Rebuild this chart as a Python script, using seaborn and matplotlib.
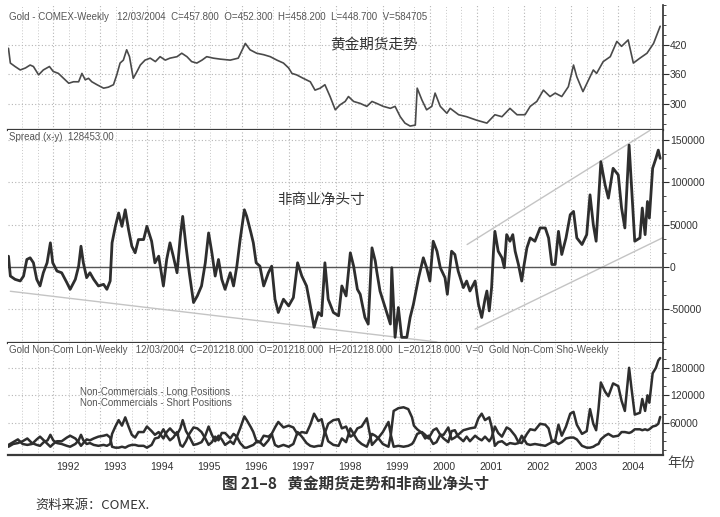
import numpy as np
import pandas as pd
import seaborn as sns
import matplotlib.pyplot as plt
from matplotlib.ticker import FixedLocator, MultipleLocator
from matplotlib.transforms import ScaledTranslation

# ---- gold weekly close ----
gold_t = [1991.05, 1991.09, 1991.19, 1991.30, 1991.41, 1991.51, 1991.58, 1991.69, 1991.79, 1991.92,
          1992.00, 1992.11, 1992.22, 1992.33, 1992.43, 1992.54, 1992.61, 1992.68, 1992.75, 1992.82,
          1992.93, 1993.07, 1993.17, 1993.28, 1993.35, 1993.42, 1993.49, 1993.56, 1993.62, 1993.70,
          1993.78, 1993.85, 1993.95, 1994.06, 1994.17, 1994.27, 1994.38, 1994.48, 1994.63, 1994.73,
          1994.84, 1994.94, 1995.05, 1995.16, 1995.26, 1995.40, 1995.55, 1995.76, 1995.93, 1996.08,
          1996.18, 1996.32, 1996.47, 1996.61, 1996.75, 1996.89, 1997.00, 1997.07, 1997.17, 1997.31,
          1997.46, 1997.56, 1997.67, 1997.77, 1997.88, 1997.99, 1998.09, 1998.20, 1998.27, 1998.38,
          1998.52, 1998.66, 1998.77, 1998.87, 1999.01, 1999.16, 1999.26, 1999.37, 1999.47, 1999.58,
          1999.69, 1999.73, 1999.83, 1999.93, 2000.04, 2000.11, 2000.22, 2000.36, 2000.43, 2000.61,
          2000.78, 2000.99, 2001.21, 2001.38, 2001.53, 2001.70, 2001.85, 2002.02, 2002.13, 2002.27,
          2002.41, 2002.55, 2002.66, 2002.80, 2002.94, 2003.05, 2003.12, 2003.25, 2003.37, 2003.47,
          2003.54, 2003.68, 2003.83, 2003.97, 2004.07, 2004.21, 2004.32, 2004.46, 2004.61, 2004.75,
          2004.89]
gold_v = [413, 383, 376, 369, 373, 379, 376, 359, 369, 376,
          366, 362, 352, 342, 345, 345, 362, 349, 352, 345,
          339, 332, 334, 339, 359, 383, 389, 410, 396, 352,
          366, 379, 389, 393, 386, 396, 389, 393, 396, 403,
          396, 386, 383, 389, 396, 393, 391, 389, 393, 423,
          410, 403, 400, 396, 389, 383, 373, 362, 359, 352,
          345, 328, 332, 339, 315, 288, 298, 305, 315, 305,
          301, 295, 305, 301, 295, 291, 295, 274, 261, 255,
          257, 332, 308, 288, 295, 322, 295, 281, 291, 278,
          274, 267, 261, 278, 274, 291, 278, 278, 295, 305,
          328, 315, 322, 315, 335, 379, 355, 325, 349, 369,
          362, 386, 396, 427, 417, 430, 383, 393, 403, 423,
          457.8]

# ---- spread (x-y): non-commercial net position ----
spread_t = [1991.05, 1991.09, 1991.19, 1991.30, 1991.37, 1991.44, 1991.51, 1991.58, 1991.65, 1991.72,
            1991.79, 1991.87, 1991.94, 1991.99, 1992.08, 1992.18, 1992.29, 1992.36, 1992.47, 1992.54,
            1992.59, 1992.64, 1992.71, 1992.78, 1992.86, 1992.96, 1993.07, 1993.14, 1993.21, 1993.25,
            1993.32, 1993.39, 1993.46, 1993.53, 1993.60, 1993.67, 1993.74, 1993.81, 1993.92, 1993.99,
            1994.09, 1994.16, 1994.24, 1994.34, 1994.41, 1994.48, 1994.55, 1994.63, 1994.70, 1994.75,
            1994.82, 1994.89, 1994.98, 1995.06, 1995.15, 1995.23, 1995.30, 1995.37, 1995.44, 1995.51,
            1995.58, 1995.65, 1995.76, 1995.83, 1995.90, 1995.97, 1996.06, 1996.11, 1996.20, 1996.25,
            1996.31, 1996.39, 1996.47, 1996.57, 1996.64, 1996.71, 1996.78, 1996.89, 1997.00, 1997.10,
            1997.19, 1997.28, 1997.38, 1997.46, 1997.54, 1997.63, 1997.70, 1997.77, 1997.84, 1997.95,
            1998.06, 1998.13, 1998.22, 1998.31, 1998.38, 1998.46, 1998.52, 1998.62, 1998.69, 1998.77,
            1998.84, 1998.87, 1998.94, 1999.05, 1999.16, 1999.19, 1999.26, 1999.33, 1999.40, 1999.51,
            1999.58, 1999.65, 1999.76, 1999.86, 1999.93, 2000.00, 2000.07, 2000.15, 2000.22, 2000.32,
            2000.37, 2000.46, 2000.53, 2000.60, 2000.71, 2000.78, 2000.85, 2000.96, 2001.03, 2001.10,
            2001.17, 2001.21, 2001.26, 2001.31, 2001.35, 2001.38, 2001.45, 2001.53, 2001.58, 2001.63,
            2001.70, 2001.76, 2001.81, 2001.88, 2001.95, 2001.99, 2002.06, 2002.13, 2002.23, 2002.34,
            2002.45, 2002.52, 2002.59, 2002.66, 2002.73, 2002.80, 2002.89, 2002.98, 2003.05, 2003.12,
            2003.23, 2003.33, 2003.40, 2003.47, 2003.53, 2003.58, 2003.63, 2003.72, 2003.79, 2003.89,
            2004.00, 2004.07, 2004.14, 2004.23, 2004.28, 2004.35, 2004.46, 2004.51, 2004.57, 2004.62,
            2004.66, 2004.73, 2004.80, 2004.85, 2004.89]
spread_v = [12700, -10800, -14700, -16600, -10800, 8800, 10800, 4900, -14700, -22500,
            -6900, 4900, 28500, 4900, -4900, -6900, -18600, -26500, -14700, 900,
            24500, 4900, -12700, -6900, -14700, -22500, -20600, -26500, -16600, 28500,
            48000, 63800, 48000, 67600, 44100, 24500, 16700, 32400, 32400, 48000,
            30400, 4900, 12700, -22500, 8800, 28500, 12700, -6900, 36300, 59800,
            24500, -6900, -42100, -34300, -22500, 4900, 40200, 16700, -10800, 8800,
            -14700, -26500, -6900, -22500, 900, 32400, 67600, 59800, 40200, 28500,
            4900, 900, -22500, -6900, 900, -38200, -53900, -38200, -46100, -36300,
            4900, -10800, -22500, -46100, -71500, -53900, -57800, 4900, -38200, -53900,
            -57800, -22500, -34300, 16700, 900, -26500, -32400, -59800, -67600, 22600,
            6900, -4900, -28500, -48000, -67600, -900, -83300, -48000, -83300, -83300,
            -59800, -44100, -12700, 10800, -900, -16700, 30400, 18600, -900, -12700,
            -32400, 18600, 14700, -4900, -24500, -16700, -28500, -16700, -44100, -59800,
            -38200, -28500, -52000, -24500, 18600, 42100, 18600, 10800, -900, 38200,
            30400, 38200, 18600, 2900, -16700, -900, 22600, 34300, 30400, 46100,
            46100, 34300, 2900, 2900, 42100, 14700, 34300, 61800, 65700, 34300,
            26500, 38200, 85300, 50000, 30400, 77400, 124500, 97100, 81400, 116700,
            108800, 69700, 46100, 144100, 97100, 30400, 34300, 69700, 38200, 77400,
            57800, 116700, 128500, 138200, 128453]

# trend channel drawn on the spread panel: (start year, start value, end year, end value)
trend_lines = [(1991.09, -28800, 2000.15, -88800),
               (2000.79, 26500, 2004.68, 161800),
               (2000.96, -73500, 2004.95, 34700)]

# ---- non-commercial long / short positions (thousand contracts) ----
pos_t = [1991.05, 1991.15, 1991.25, 1991.35, 1991.45, 1991.55, 1991.65, 1991.72, 1991.80, 1991.88,
         1991.94, 1992.00, 1992.08, 1992.18, 1992.29, 1992.36, 1992.47, 1992.54, 1992.59, 1992.64,
         1992.71, 1992.78, 1992.86, 1992.96, 1993.07, 1993.14, 1993.21, 1993.25, 1993.32, 1993.39,
         1993.46, 1993.53, 1993.60, 1993.67, 1993.74, 1993.81, 1993.92, 1993.99, 1994.09, 1994.16,
         1994.24, 1994.34, 1994.41, 1994.48, 1994.55, 1994.63, 1994.70, 1994.75, 1994.82, 1994.89,
         1994.98, 1995.06, 1995.15, 1995.23, 1995.30, 1995.37, 1995.44, 1995.51, 1995.58, 1995.65,
         1995.76, 1995.83, 1995.90, 1995.97, 1996.06, 1996.11, 1996.20, 1996.25, 1996.31, 1996.39,
         1996.47, 1996.57, 1996.64, 1996.71, 1996.78, 1996.89, 1997.00, 1997.10, 1997.19, 1997.28,
         1997.38, 1997.46, 1997.54, 1997.63, 1997.70, 1997.77, 1997.84, 1997.95, 1998.06, 1998.13,
         1998.22, 1998.31, 1998.38, 1998.46, 1998.55, 1998.66, 1998.77, 1998.84, 1998.91, 1999.00,
         1999.12, 1999.17, 1999.23, 1999.33, 1999.44, 1999.54, 1999.62, 1999.66, 1999.73, 1999.83,
         1999.90, 1999.97, 2000.07, 2000.14, 2000.22, 2000.29, 2000.39, 2000.46, 2000.53, 2000.60,
         2000.71, 2000.78, 2000.85, 2000.96, 2001.03, 2001.10, 2001.17, 2001.26, 2001.31, 2001.38,
         2001.45, 2001.53, 2001.63, 2001.70, 2001.81, 2001.88, 2001.95, 2002.06, 2002.13, 2002.23,
         2002.34, 2002.45, 2002.52, 2002.59, 2002.66, 2002.73, 2002.80, 2002.89, 2002.98, 2003.05,
         2003.12, 2003.23, 2003.33, 2003.40, 2003.47, 2003.53, 2003.58, 2003.63, 2003.72, 2003.79,
         2003.89, 2004.00, 2004.07, 2004.14, 2004.23, 2004.28, 2004.35, 2004.46, 2004.51, 2004.57,
         2004.62, 2004.66, 2004.73, 2004.80, 2004.85, 2004.89]
long_k = [8, 14, 16, 20, 26, 16, 12, 10, 18, 22,
          34, 22, 16, 14, 10, 8, 14, 22, 34, 22,
          14, 16, 12, 10, 12, 10, 14, 36, 52, 66,
          54, 72, 52, 34, 28, 40, 40, 52, 42, 34,
          40, 26, 40, 48, 40, 34, 48, 66, 42, 30,
          12, 14, 18, 32, 52, 34, 20, 32, 24, 12,
          20, 14, 30, 48, 74, 66, 50, 40, 22, 18,
          10, 22, 36, 12, 8, 12, 8, 14, 40, 30,
          16, 10, 8, 10, 10, 42, 20, 12, 10, 26,
          18, 48, 36, 22, 14, 8, 36, 32, 26, 14,
          8, 34, 8, 10, 8, 10, 14, 20, 36, 40,
          34, 26, 44, 48, 34, 26, 18, 42, 44, 30,
          20, 30, 20, 32, 26, 22, 30, 20, 28, 52,
          38, 30, 50, 46, 32, 18, 16, 36, 46, 44,
          58, 56, 48, 20, 22, 56, 32, 52, 80, 84,
          56, 36, 42, 90, 58, 44, 90, 148, 128, 118,
          146, 140, 108, 86, 180, 136, 78, 82, 112, 86,
          120, 104, 168, 180, 196, 201.2]
short_k = [12, 18, 24, 14, 12, 14, 24, 30, 22, 14,
           8, 14, 20, 20, 28, 32, 26, 18, 10, 16,
           24, 22, 26, 30, 32, 34, 28, 8, 6, 6,
           8, 6, 10, 12, 12, 10, 10, 6, 12, 26,
           28, 46, 32, 22, 28, 40, 12, 8, 20, 36,
           50, 48, 40, 26, 12, 18, 30, 22, 38, 38,
           26, 36, 30, 16, 6, 6, 10, 12, 18, 18,
           32, 30, 36, 50, 62, 50, 54, 50, 35, 40,
           38, 56, 80, 64, 68, 38, 58, 66, 68, 48,
           52, 30, 34, 48, 52, 70, 12, 20, 28, 40,
           62, 34, 86, 92, 94, 90, 72, 54, 46, 38,
           26, 32, 14, 18, 34, 34, 50, 24, 28, 34,
           44, 46, 48, 50, 70, 80, 66, 72, 52, 10,
           18, 20, 12, 16, 14, 16, 32, 14, 12, 14,
           12, 10, 14, 18, 20, 14, 18, 26, 28, 28,
           24, 10, 6, 6, 8, 12, 14, 24, 32, 36,
           30, 32, 40, 40, 38, 40, 46, 46, 44, 46,
           44, 46, 52, 54, 58, 72.8]

years = list(range(1992, 2005))

gold_df = pd.DataFrame({"t": gold_t, "close": gold_v})
spread_df = pd.DataFrame({"t": spread_t, "spread": spread_v})
pos_df = pd.DataFrame({"t": pos_t,
                       "long": np.array(long_k) * 1000,
                       "short": np.array(short_k) * 1000})

sns.set_theme(style="white")
plt.rcParams['font.family'] = ['Liberation Sans', 'DejaVu Sans']

ink = '#2e2e2e'
grey_txt = '#555555'
cjk = ['Noto Sans CJK SC', 'DejaVu Sans']

fig = plt.figure(figsize=(7.2, 5.17), dpi=100)
fig.patch.set_facecolor('white')

left, width = 8 / 720, 655 / 720
ax1 = fig.add_axes([left, 1 - 130 / 517, width, 125 / 517])
ax2 = fig.add_axes([left, 1 - 343 / 517, width, 213 / 517])
ax3 = fig.add_axes([left, 1 - 455 / 517, width, 112 / 517])

sns.lineplot(data=gold_df, x="t", y="close", ax=ax1, color='#4a4a4a',
             linewidth=1.2, estimator=None, sort=False)
sns.lineplot(data=spread_df, x="t", y="spread", ax=ax2, color=ink,
             linewidth=2.0, estimator=None, sort=False, zorder=4)
sns.lineplot(data=pos_df, x="t", y="short", ax=ax3, color=ink,
             linewidth=1.8, estimator=None, sort=False)
sns.lineplot(data=pos_df, x="t", y="long", ax=ax3, color=ink,
             linewidth=1.8, estimator=None, sort=False)

ax2.axhline(0, color='#555555', lw=1.0, zorder=3)
for x0, y0, x1, y1 in trend_lines:
    ax2.plot([x0, x1], [y0, y1], color='#c4c4c4', lw=1.0, zorder=2)

limits = [(ax1, (247, 501), [300, 360, 420], 20),
          (ax2, (-90000, 162000), [-50000, 0, 50000, 100000, 150000], 50000 / 3),
          (ax3, (-10000, 234000), [60000, 120000, 180000], 20000)]

for ax, ylim, yt, minor in limits:
    ax.set_xlim(1991.04, 2004.95)
    ax.set_ylim(*ylim)
    ax.set_facecolor('white')
    ax.set_xlabel('')
    ax.set_ylabel('')
    ax.yaxis.tick_right()
    ax.yaxis.set_major_locator(FixedLocator(yt))
    ax.yaxis.set_minor_locator(MultipleLocator(minor))
    ax.set_yticklabels([str(v) for v in yt])
    ax.tick_params(axis='y', which='major', length=4, width=0.8, color=ink,
                   labelsize=7.5, labelcolor='#333333', pad=1)
    ax.tick_params(axis='y', which='minor', length=2, width=0.6, color=ink)
    ax.set_xticks(years)
    ax.xaxis.set_minor_locator(MultipleLocator(1 / 3))
    ax.grid(True, which='major', axis='both', linestyle=(0, (1, 2)), color='#b5b5b5', lw=0.8)
    ax.grid(True, which='minor', axis='x', linestyle=(0, (1, 2)), color='#c8c8c8', lw=0.7)
    ax.tick_params(axis='x', which='minor', length=0)
    for side in ['left', 'top']:
        ax.spines[side].set_visible(False)
    ax.spines['right'].set_color(ink)
    ax.spines['right'].set_linewidth(1.2)
    ax.spines['bottom'].set_color('#3a3a3a')
    ax.spines['bottom'].set_linewidth(1.6)

for ax in (ax1, ax2):
    ax.tick_params(axis='x', which='major', length=0, labelbottom=False)

ax3.tick_params(axis='x', which='major', length=5, width=0.8, color=ink,
                labelsize=7.5, labelcolor='#333333', pad=0)
ax3.set_xticklabels([str(y) for y in years])
shift = ScaledTranslation(2 / 72, 0, fig.dpi_scale_trans)
for lab in ax3.get_xticklabels():
    lab.set_horizontalalignment('left')
    lab.set_transform(lab.get_transform() + shift)


def px(x, y):
    return x / 720, 1 - y / 517


hdr = dict(fontsize=7, color=grey_txt, va='center', ha='left')
fig.text(*px(9, 17), "Gold - COMEX-Weekly   12/03/2004  C=457.800  O=452.300  "
         "H=458.200  L=448.700  V=584705", **hdr)
fig.text(*px(9, 137), "Spread (x-y)  128453.00", **hdr)
fig.text(*px(9, 350), "Gold Non-Com Lon-Weekly   12/03/2004  C=201218.000  O=201218.000  "
         "H=201218.000  L=201218.000  V=0  Gold Non-Com Sho-Weekly", **hdr)
fig.text(*px(80, 392), "Non-Commercials - Long Positions", **hdr)
fig.text(*px(80, 403), "Non-Commercials - Short Positions", **hdr)

fig.text(*px(330, 45), "黄金期货走势", fontsize=10.5, color='#333333',
         family=cjk, va='center', ha='left')
fig.text(*px(277, 200), "非商业净头寸", fontsize=10.5, color='#333333',
         family=cjk, va='center', ha='left')
fig.text(*px(667, 463), "年份", fontsize=10, color='#444444',
         family=cjk, va='center', ha='left')
fig.text(*px(222, 484), "图 21–8   黄金期货走势和非商业净头寸", fontsize=11.2,
         weight='bold', color='#333333', family=cjk, va='center', ha='left')
fig.text(*px(35, 505), "资料来源：COMEX.", fontsize=9.5, color='#333333',
         family=cjk, va='center', ha='left')

fig.savefig("out.png", dpi=100, facecolor='white')
